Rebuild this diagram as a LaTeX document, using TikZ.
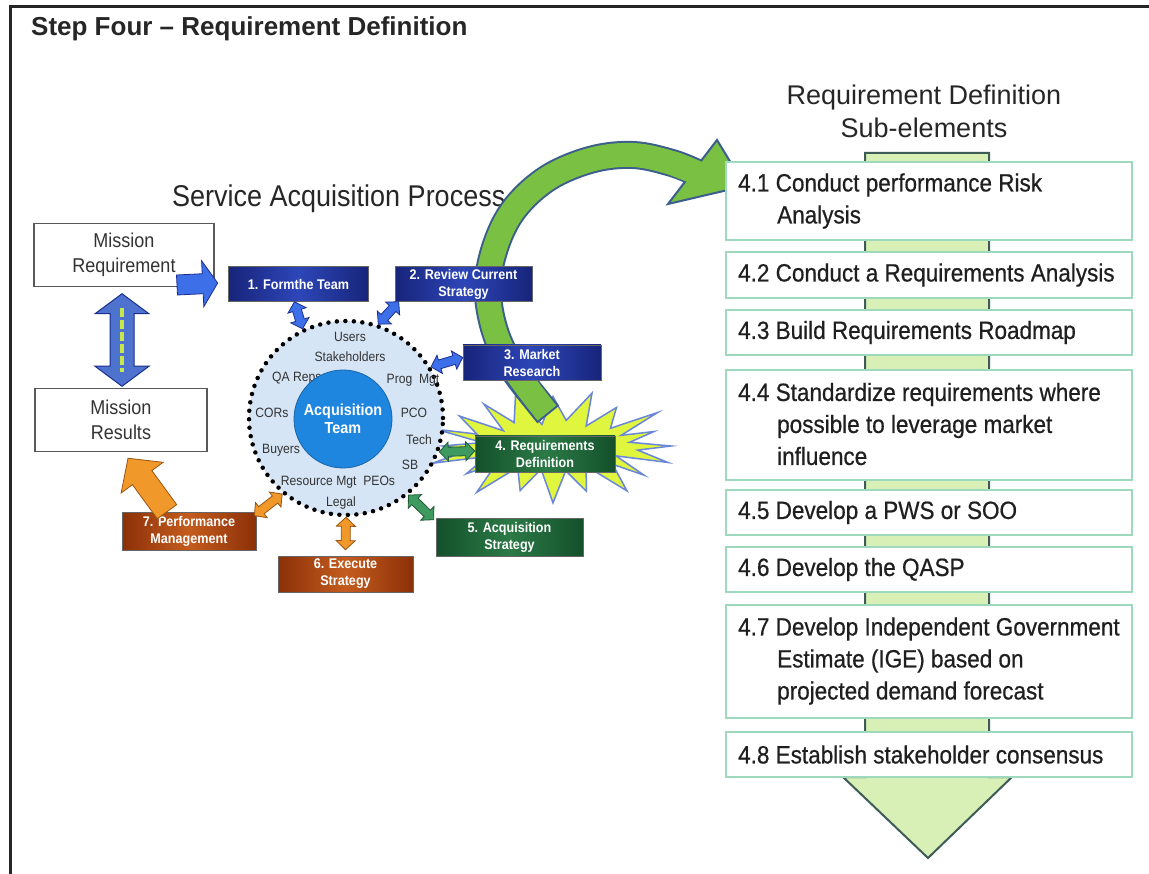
\documentclass[tikz,border=0pt]{standalone}
\usepackage{fontspec}
\setmainfont{Liberation Sans}
\newfontfamily\narrow[FakeStretch=0.9]{Liberation Sans}
\newfontfamily\narrowdark[FakeStretch=0.9,FakeBold=0.6]{Liberation Sans}
\usetikzlibrary{calc}
\definecolor{navyA}{HTML}{17247A}
\definecolor{navyB}{HTML}{2D46B8}
\definecolor{grnA}{HTML}{14502B}
\definecolor{grnB}{HTML}{2B7A46}
\definecolor{rustA}{HTML}{8C3008}
\definecolor{rustB}{HTML}{C45C1E}
\definecolor{circfill}{HTML}{D5E5F6}
\definecolor{teamblue}{HTML}{1F86E0}
\definecolor{arrblue}{HTML}{3D6FE8}
\definecolor{arrblueD}{HTML}{1A2F90}
\definecolor{arrgrn}{HTML}{3F9A60}
\definecolor{arrgrnD}{HTML}{1E5A35}
\definecolor{arrorg}{HTML}{F0982A}
\definecolor{arrorgD}{HTML}{9A5510}
\definecolor{burst}{HTML}{E0F53E}
\definecolor{burstD}{HTML}{6A86D8}
\definecolor{curvG}{HTML}{7AC143}
\definecolor{curvD}{HTML}{3B5E8C}
\definecolor{rboxc}{HTML}{9ED9BD}
\definecolor{bandF}{HTML}{D8EFB5}
\definecolor{bandD}{HTML}{3D5C57}
\definecolor{lbl}{HTML}{333333}
\definecolor{chainc}{HTML}{C8E84A}

% single block arrow: style, from, to, shaft half, head half, head length
\newcommand\sarrow[6]{%
  \coordinate (ab) at ($(#3)!#6!(#2)$);
  \filldraw[#1] ($(#2)!#4!90:(#3)$) -- ($(ab)!#4!90:(#3)$) -- ($(ab)!#5!90:(#3)$) -- (#3)
    -- ($(ab)!#5!-90:(#3)$) -- ($(ab)!#4!-90:(#3)$) -- ($(#2)!#4!-90:(#3)$) -- cycle;}
% double block arrow
\newcommand\darrow[6]{%
  \coordinate (aa) at ($(#2)!#6!(#3)$);
  \coordinate (ab) at ($(#3)!#6!(#2)$);
  \filldraw[#1] (#2) -- ($(aa)!#5!90:(#3)$) -- ($(aa)!#4!90:(#3)$) -- ($(ab)!#4!90:(#3)$)
    -- ($(ab)!#5!90:(#3)$) -- (#3) -- ($(ab)!#5!-90:(#3)$) -- ($(ab)!#4!-90:(#3)$)
    -- ($(aa)!#4!-90:(#3)$) -- ($(aa)!#5!-90:(#3)$) -- cycle;}

\tikzset{
  rbox/.style={rectangle, draw=rboxc, line width=2.5pt, fill=white, minimum width=406pt, inner sep=0pt},
  rtext/.style={anchor=west, align=left, inner sep=0pt, text=black!88, font=\narrowdark\fontsize{25}{32}\selectfont},
  proc/.style={rectangle, inner sep=2pt, align=center, text=white, draw=black!60, line width=0.6pt,
    font=\narrow\bfseries\fontsize{14}{17}\selectfont},
  navybox/.style={proc, left color=navyA, right color=navyA, middle color=navyB},
  grnbox/.style={proc, left color=grnA, right color=grnA, middle color=grnB},
  rustbox/.style={proc, left color=rustA, right color=rustA, middle color=rustB},
  mbox/.style={rectangle, draw=black!65, line width=1.5pt, fill=white, align=center, text=black!80,
    font=\narrow\fontsize{20}{25}\selectfont},
  clbl/.style={inner sep=0pt, text=lbl, font=\narrow\fontsize{13.5}{16}\selectfont},
  ablue/.style={fill=arrblue, draw=arrblueD, line width=0.8pt, line join=miter},
  agrn/.style={fill=arrgrn, draw=arrgrnD, line width=0.8pt, line join=miter},
  aorg/.style={fill=arrorg, draw=arrorgD, line width=0.8pt, line join=miter},
}

\begin{document}
\begin{tikzpicture}[x=1pt,y=-1pt]
\useasboundingbox (0,0) rectangle (1149,874);
\fill[white] (0,0) rectangle (1149,874);
\draw[line width=3pt, black!85] (10,874) -- (10,7) -- (1149,7);

% titles
\node[anchor=base west, inner sep=0pt, text=black!85, font=\bfseries\fontsize{26}{30}\selectfont] (title) at (31,36) {Step Four – Requirement Definition};
\node[anchor=base west, inner sep=0pt, text=black!85, font=\narrow\fontsize{30}{36}\selectfont] (sap) at (172,207) {Service Acquisition Process};
\node[anchor=base, inner sep=0pt, text=black!85, font=\fontsize{27}{32}\selectfont] (rdh1) at (924,105) {Requirement Definition};
\node[anchor=base, inner sep=0pt, text=black!85, font=\fontsize{27}{32}\selectfont] (rdh2) at (924,138) {Sub-elements};

% starburst behind step 4
\filldraw[fill=burst, draw=burstD, line width=1.5pt, line join=miter]
  plot[samples at={0,...,39}] ({553+(98+20*cos(\x*180))*(1+0.1*sin(\x*83))*cos(\x*9)},
                               {446+(38+14*cos(\x*180))*(1+0.1*sin(\x*83))*sin(\x*9)}) -- cycle;

% big green curved arrow
\coordinate (gs) at (547,413);
\coordinate (ge) at (697,173);
\draw[curvD, line width=28pt, shorten <=-2pt] plot[smooth, tension=0.6] coordinates {(gs) (505,355) (489,305) (491,262) (510,215) (545,180) (590,160) (633,155) (672,163) (ge)};
\draw[curvG, line width=24pt] plot[smooth, tension=0.6] coordinates {(gs) (505,355) (489,305) (491,262) (510,215) (545,180) (590,160) (633,155) (672,163) (ge)};
\filldraw[fill=curvG, draw=curvD, line width=2pt, line join=miter] (717,140) -- (745,186) -- (668,204) -- cycle;
\draw[curvG, line width=24pt] (672,163) -- (705,176);

% right column: band arrow and boxes
\filldraw[fill=bandF, draw=bandD, line width=2pt, line join=miter]
  (865,153) -- (989,153) -- (989,777) -- (1012,777) -- (928,858) -- (843,777) -- (865,777) -- cycle;
\node[rbox, minimum height=78pt]  (r1) at (929,201) {};
\node[rbox, minimum height=46pt]  (r2) at (929,275) {};
\node[rbox, minimum height=45pt]  (r3) at (929,332.5) {};
\node[rbox, minimum height=110pt] (r4) at (929,425) {};
\node[rbox, minimum height=45pt]  (r5) at (929,512.5) {};
\node[rbox, minimum height=45pt]  (r6) at (929,569.5) {};
\node[rbox, minimum height=113pt] (r7) at (929,661.5) {};
\node[rbox, minimum height=45pt]  (r8) at (929,754.5) {};
\node[rtext] (t1) at (738,201) {4.1 Conduct performance Risk\\\hspace*{39pt}Analysis};
\node[rtext] (t2) at (738,275) {4.2 Conduct a Requirements Analysis};
\node[rtext] (t3) at (738,332.5) {4.3 Build Requirements Roadmap};
\node[rtext] (t4) at (738,424) {4.4 Standardize requirements where\\\hspace*{39pt}possible to leverage market\\\hspace*{39pt}influence};
\node[rtext] (t5) at (738,512.5) {4.5 Develop a PWS or SOO};
\node[rtext] (t6) at (738,569.5) {4.6 Develop the QASP};
\node[rtext] (t7) at (738,661) {4.7 Develop Independent Government\\\hspace*{39pt}Estimate (IGE) based on\\\hspace*{39pt}projected demand forecast};
\node[rtext] (t8) at (738,754.5) {4.8 Establish stakeholder consensus};

% acquisition team circle
\node[circle, minimum size=194pt, inner sep=0pt, fill=circfill, draw=black, line width=4.5pt,
      dash pattern=on 0pt off 8.5pt, line cap=round] (circ) at (346,418) {};
\node[clbl] (lu) at (350,337) {Users};
\node[clbl] (ls) at (350,357) {Stakeholders};
\node[clbl, anchor=west] (lqa) at (272,378) {QA Reps};
\node[clbl] (lpm) at (413,380) {Prog\enspace Mgt};
\node[clbl] (lcor) at (272,413) {CORs};
\node[clbl] (lpco) at (414,413) {PCO};
\node[clbl] (ltech) at (419,440) {Tech};
\node[clbl, anchor=west] (lbuy) at (262,450) {Buyers};
\node[clbl] (lsb) at (410,465) {SB};
\node[clbl] (lres) at (338,482) {Resource Mgt\enspace PEOs};
\node[clbl] (lleg) at (341,503) {Legal};
\node[circle, minimum size=98pt, inner sep=0pt, fill=teamblue, draw=teamblue!75!black, line width=0.8pt,
      text=white, align=center, font=\narrow\bfseries\fontsize{16}{18}\selectfont] (team) at (343,419) {Acquisition\\Team};

% process steps
\node[navybox, minimum width=140pt, minimum height=35pt] (n1) at (298.5,284) {1. Formthe Team};
\node[navybox, minimum width=137pt, minimum height=35pt] (n2) at (463.5,284) {2. Review Current\\Strategy};
\node[navybox, minimum width=138pt, minimum height=35pt] (n3) at (532,362.5) {3. Market\\Research};
\node[grnbox,  minimum width=140pt, minimum height=36pt] (n4) at (545,454) {4. Requirements\\Definition};
\node[grnbox,  minimum width=147pt, minimum height=38pt] (n5) at (509.5,537) {5. Acquisition\\Strategy};
\node[rustbox, minimum width=135pt, minimum height=36pt] (n6) at (345.5,574) {6. Execute\\Strategy};
\node[rustbox, minimum width=134pt, minimum height=38pt] (n7) at (189,531) {7. Performance\\Management};

% connectors circle <-> steps
\coordinate (e1a) at (circ.116); \coordinate (e1b) at ($(n1.south)+(-4,0)$);
\coordinate (e2a) at (circ.71);  \coordinate (e2b) at ($(n2.south west)+(4,0)$);
\coordinate (e3a) at (circ.31);  \coordinate (e3b) at ($(n3.west)+(0,-5)$);
\coordinate (e4a) at (circ.-20); \coordinate (e4b) at ($(n4.west)+(0,-3)$);
\coordinate (e5a) at (circ.-51); \coordinate (e5b) at ($(n5.north west)+(-2,2)$);
\coordinate (e6a) at (circ.-90); \coordinate (e6b) at ($(n6.north)+(0,-6)$);
\coordinate (e7a) at (circ.230); \coordinate (e7b) at ($(n7.north east)+(-2,4)$);
\darrow{ablue}{e1a}{e1b}{4.5pt}{9.5pt}{9pt}
\darrow{ablue}{e2a}{e2b}{4.5pt}{9.5pt}{9pt}
\darrow{ablue}{e3a}{e3b}{4.5pt}{9.5pt}{9pt}
\darrow{agrn}{e4a}{e4b}{4.5pt}{9.5pt}{9pt}
\darrow{agrn}{e5a}{e5b}{4.5pt}{9.5pt}{9pt}
\darrow{aorg}{e6a}{e6b}{4.5pt}{9.5pt}{9pt}
\darrow{aorg}{e7a}{e7b}{4.5pt}{9.5pt}{9pt}

% mission boxes
\node[mbox, minimum width=180pt, minimum height=63pt] (mreq) at (124,255) {Mission\\Requirement};
\node[mbox, minimum width=172pt, minimum height=63pt] (mres) at (121,420) {Mission\\Results};

% chain double arrow
\coordinate (ca) at ($(mreq.south)+(-2,6.5)$);
\coordinate (cb) at ($(mres.north)+(1,-1.5)$);
\darrow{fill=arrblue!75!gray, draw=arrblueD, line width=1pt, line join=miter}{ca}{cb}{12pt}{27pt}{20pt}
\draw[chainc, line width=4pt, dash pattern=on 9pt off 3pt] ($(ca)+(0,14)$) -- ($(cb)+(0,-14)$);

% requirement -> team
\coordinate (ra) at (177,285);
\coordinate (rb) at ($(n1.west)+(-10.5,-1)$);
\sarrow{ablue}{ra}{rb}{10pt}{23pt}{15pt}

% performance management -> results
\coordinate (oa) at ($(n7.north)+(-22,0)$);
\coordinate (ob) at ($(mres.south)+(7,6)$);
\sarrow{aorg}{oa}{ob}{12pt}{26pt}{24pt}
\end{tikzpicture}
\end{document}
